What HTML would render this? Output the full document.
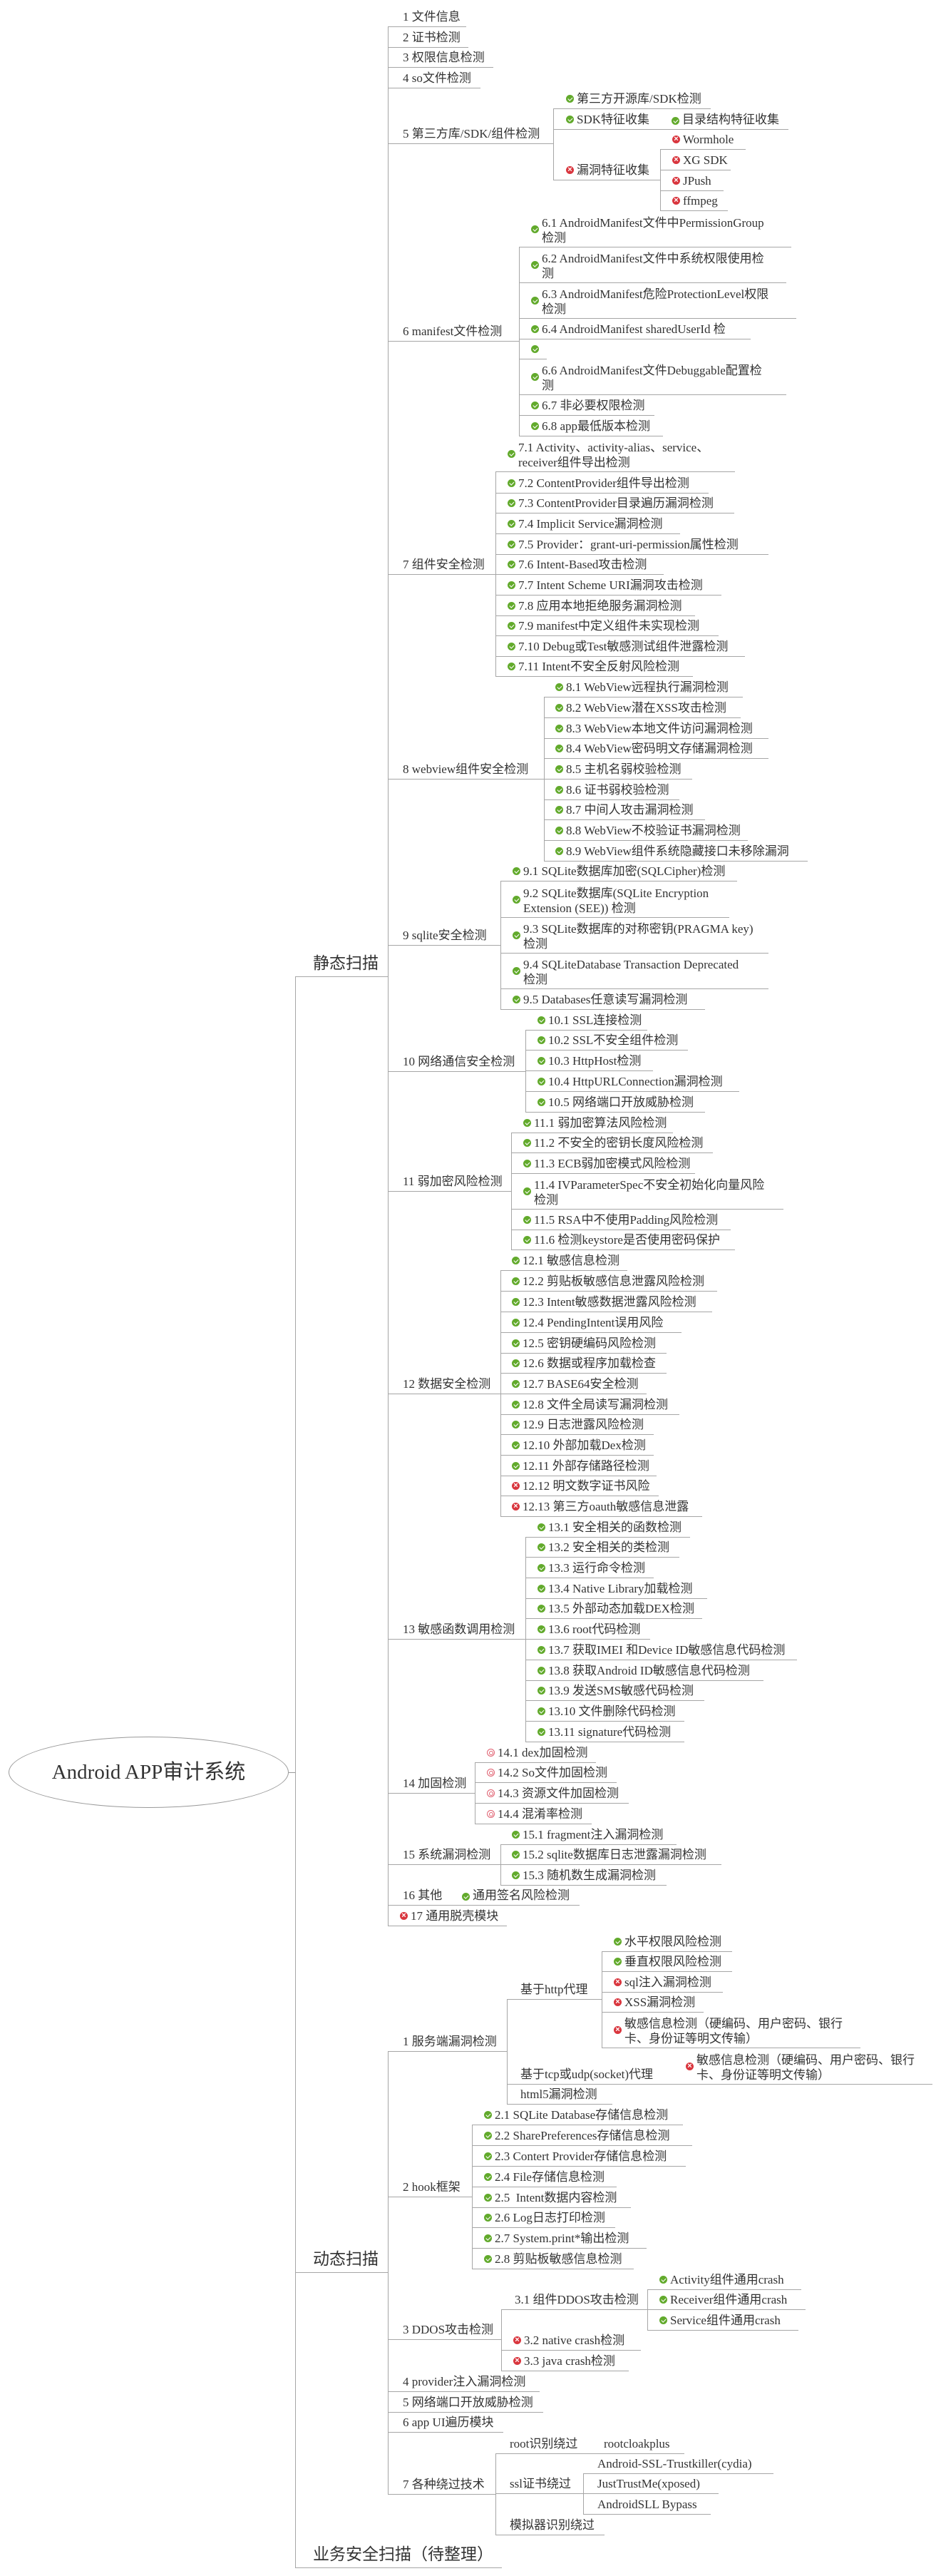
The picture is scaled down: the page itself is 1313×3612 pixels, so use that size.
<!DOCTYPE html>
<html><head><meta charset="utf-8">
<style>
html,body{margin:0;padding:0;background:#fff}
body{width:1313px;height:3612px;position:relative;overflow:hidden;font-family:"Liberation Serif","Noto Sans CJK SC",serif;color:#333}
.n{position:absolute;box-sizing:border-box;height:28px;border-bottom:1.5px solid #a6a6a6;white-space:nowrap;font-size:17px;line-height:24px;padding-top:2px;transform:translateY(-100%)}
.n.t{height:50px;line-height:21px;padding-top:5px}
.n.L{font-size:23px;height:36px;line-height:30px}
.v{position:absolute;border-left:1.5px solid #a6a6a6;width:0}
.n b{position:absolute;margin-left:-15px;bottom:8px;width:11px;height:11px;border-radius:50%}
.n.t b{bottom:19px}
.g{background:#62aa2c}
.g::after{content:"";position:absolute;left:3.5px;top:1.5px;width:2.5px;height:5px;border:solid #fff;border-width:0 1.5px 1.5px 0;transform:rotate(45deg)}
.r{background:#d9363e}
.r::after{content:"×";position:absolute;left:0;top:-3px;width:11px;text-align:center;color:#fff;font:bold 11px/16px "Liberation Sans",sans-serif}
.p{background:#fff;box-sizing:border-box;border:1.5px solid #e06070}
.p::after{content:"";position:absolute;left:2px;top:2px;width:4px;height:4px;border:1px solid #e06070;border-radius:50%}
.a{position:absolute;top:2px}
.root{position:absolute;left:12px;top:2435px;width:393px;height:100px;box-sizing:border-box;border:1px solid #999;border-radius:50%;text-align:center;font-size:29px;line-height:98px;color:#333}
</style></head><body>

<div class="root">Android APP审计系统</div>
<div style="position:absolute;left:405px;top:2485px;width:9px;border-top:1px solid #999"></div>

<!-- main bracket -->
<div class="v" style="left:414px;top:1370px;height:2231px"></div>
<div class="n L" style="left:414px;top:1370px;width:130px;padding-left:25px">静态扫描</div>
<div class="n L" style="left:414px;top:3187px;width:130px;padding-left:25px">动态扫描</div>
<div class="n L" style="left:414px;top:3601px;width:290px;padding-left:25px">业务安全扫描（待整理）</div>

<!-- static level 2 -->
<div class="v" style="left:544px;top:38px;height:2663px"></div>
<div class="n" style="left:544px;top:38px;width:110px;padding-left:21px">1 文件信息</div>
<div class="n" style="left:544px;top:67px;width:113px;padding-left:21px">2 证书检测</div>
<div class="n" style="left:544px;top:95px;width:148px;padding-left:21px">3 权限信息检测</div>
<div class="n" style="left:544px;top:124px;width:130px;padding-left:21px">4 so文件检测</div>
<div class="n" style="left:544px;top:202px;width:232px;padding-left:21px">5 第三方库/SDK/组件检测</div>
<div class="n" style="left:544px;top:479px;width:184px;padding-left:21px">6 manifest文件检测</div>
<div class="n" style="left:544px;top:806px;width:151px;padding-left:21px">7 组件安全检测</div>
<div class="n" style="left:544px;top:1093px;width:219px;padding-left:21px">8 webview组件安全检测</div>
<div class="n" style="left:544px;top:1326px;width:158px;padding-left:21px">9 sqlite安全检测</div>
<div class="n" style="left:544px;top:1503px;width:193px;padding-left:21px">10 网络通信安全检测</div>
<div class="n" style="left:544px;top:1671px;width:173px;padding-left:21px">11 弱加密风险检测</div>
<div class="n" style="left:544px;top:1955px;width:158px;padding-left:21px">12 数据安全检测</div>
<div class="n" style="left:544px;top:2299px;width:193px;padding-left:21px">13 敏感函数调用检测</div>
<div class="n" style="left:544px;top:2515px;width:122px;padding-left:21px">14 加固检测</div>
<div class="n" style="left:544px;top:2615px;width:158px;padding-left:21px">15 系统漏洞检测</div>
<div class="n" style="left:544px;top:2672px;width:269px;padding-left:21px">16 其他<span class="a" style="left:119px"><b class="g" style="bottom:auto;top:8px;margin-left:-15px"></b>通用签名风险检测</span></div>
<div class="n" style="left:544px;top:2701px;width:167px;padding-left:32px"><b class="r"></b>17 通用脱壳模块</div>

<!-- G5 -->
<div class="v" style="left:776px;top:153px;height:100px"></div>
<div class="n" style="left:776px;top:153px;width:221px;padding-left:33px"><b class="g"></b>第三方开源库/SDK检测</div>
<div class="n" style="left:776px;top:182px;width:330px;padding-left:33px"><b class="g"></b>SDK特征收集<span class="a" style="left:181px"><b class="g" style="bottom:auto;top:8px"></b>目录结构特征收集</span></div>
<div class="n" style="left:776px;top:253px;width:150px;padding-left:33px"><b class="r"></b>漏洞特征收集</div>
<div class="v" style="left:926px;top:210px;height:86px"></div>
<div class="n" style="left:926px;top:210px;width:120px;padding-left:32px"><b class="r"></b>Wormhole</div>
<div class="n" style="left:926px;top:239px;width:99px;padding-left:32px"><b class="r"></b>XG SDK</div>
<div class="n" style="left:926px;top:268px;width:89px;padding-left:32px"><b class="r"></b>JPush</div>
<div class="n" style="left:926px;top:296px;width:95px;padding-left:32px"><b class="r"></b>ffmpeg</div>

<!-- G6 -->
<div class="v" style="left:728px;top:347px;height:265px"></div>
<div class="n t" style="left:728px;top:347px;width:382px;padding-left:32px"><b class="g"></b>6.1 AndroidManifest文件中PermissionGroup<br>检测</div>
<div class="n t" style="left:728px;top:397px;width:375px;padding-left:32px"><b class="g"></b>6.2 AndroidManifest文件中系统权限使用检<br>测</div>
<div class="n t" style="left:728px;top:447px;width:389px;padding-left:32px"><b class="g"></b>6.3 AndroidManifest危险ProtectionLevel权限<br>检测</div>
<div class="n" style="left:728px;top:476px;width:325px;padding-left:32px"><b class="g"></b>6.4 AndroidManifest sharedUserId 检</div>
<div class="n" style="left:728px;top:504px;width:39px;padding-left:32px"><b class="g"></b></div>
<div class="n t" style="left:728px;top:554px;width:375px;padding-left:32px"><b class="g"></b>6.6 AndroidManifest文件Debuggable配置检<br>测</div>
<div class="n" style="left:728px;top:583px;width:190px;padding-left:32px"><b class="g"></b>6.7 非必要权限检测</div>
<div class="n" style="left:728px;top:612px;width:202px;padding-left:32px"><b class="g"></b>6.8 app最低版本检测</div>

<!-- G7 -->
<div class="v" style="left:695px;top:662px;height:287px"></div>
<div class="n t" style="left:695px;top:662px;width:336px;padding-left:32px"><b class="g"></b>7.1 Activity、activity-alias、service、<br>receiver组件导出检测</div>
<div class="n" style="left:695px;top:692px;width:299px;padding-left:32px"><b class="g"></b>7.2 ContentProvider组件导出检测</div>
<div class="n" style="left:695px;top:720px;width:335px;padding-left:32px"><b class="g"></b>7.3 ContentProvider目录遍历漏洞检测</div>
<div class="n" style="left:695px;top:749px;width:259px;padding-left:32px"><b class="g"></b>7.4 Implicit Service漏洞检测</div>
<div class="n" style="left:695px;top:778px;width:383px;padding-left:32px"><b class="g"></b>7.5 Provider：grant-uri-permission属性检测</div>
<div class="n" style="left:695px;top:806px;width:236px;padding-left:32px"><b class="g"></b>7.6 Intent-Based攻击检测</div>
<div class="n" style="left:695px;top:835px;width:317px;padding-left:32px"><b class="g"></b>7.7 Intent Scheme URI漏洞攻击检测</div>
<div class="n" style="left:695px;top:864px;width:280px;padding-left:32px"><b class="g"></b>7.8 应用本地拒绝服务漏洞检测</div>
<div class="n" style="left:695px;top:892px;width:313px;padding-left:32px"><b class="g"></b>7.9 manifest中定义组件未实现检测</div>
<div class="n" style="left:695px;top:921px;width:350px;padding-left:32px"><b class="g"></b>7.10 Debug或Test敏感测试组件泄露检测</div>
<div class="n" style="left:695px;top:949px;width:277px;padding-left:32px"><b class="g"></b>7.11 Intent不安全反射风险检测</div>

<!-- G8 -->
<div class="v" style="left:763px;top:978px;height:230px"></div>
<div class="n" style="left:763px;top:978px;width:279px;padding-left:31px"><b class="g"></b>8.1 WebView远程执行漏洞检测</div>
<div class="n" style="left:763px;top:1007px;width:276px;padding-left:31px"><b class="g"></b>8.2 WebView潜在XSS攻击检测</div>
<div class="n" style="left:763px;top:1036px;width:315px;padding-left:31px"><b class="g"></b>8.3 WebView本地文件访问漏洞检测</div>
<div class="n" style="left:763px;top:1064px;width:315px;padding-left:31px"><b class="g"></b>8.4 WebView密码明文存储漏洞检测</div>
<div class="n" style="left:763px;top:1093px;width:208px;padding-left:31px"><b class="g"></b>8.5 主机名弱校验检测</div>
<div class="n" style="left:763px;top:1122px;width:190px;padding-left:31px"><b class="g"></b>8.6 证书弱校验检测</div>
<div class="n" style="left:763px;top:1150px;width:226px;padding-left:31px"><b class="g"></b>8.7 中间人攻击漏洞检测</div>
<div class="n" style="left:763px;top:1179px;width:286px;padding-left:31px"><b class="g"></b>8.8 WebView不校验证书漏洞检测</div>
<div class="n" style="left:763px;top:1208px;width:370px;padding-left:31px"><b class="g"></b>8.9 WebView组件系统隐藏接口未移除漏洞</div>

<!-- G9 -->
<div class="v" style="left:702px;top:1236px;height:180px"></div>
<div class="n" style="left:702px;top:1236px;width:332px;padding-left:32px"><b class="g"></b>9.1 SQLite数据库加密(SQLCipher)检测</div>
<div class="n t" style="left:702px;top:1287px;width:321px;padding-left:32px"><b class="g"></b>9.2 SQLite数据库(SQLite Encryption<br>Extension (SEE)) 检测</div>
<div class="n t" style="left:702px;top:1337px;width:376px;padding-left:32px"><b class="g"></b>9.3 SQLite数据库的对称密钥(PRAGMA key)<br>检测</div>
<div class="n t" style="left:702px;top:1387px;width:376px;padding-left:32px"><b class="g"></b>9.4 SQLiteDatabase Transaction Deprecated<br>检测</div>
<div class="n" style="left:702px;top:1416px;width:287px;padding-left:32px"><b class="g"></b>9.5 Databases任意读写漏洞检测</div>

<!-- G10 -->
<div class="v" style="left:737px;top:1445px;height:115px"></div>
<div class="n" style="left:737px;top:1445px;width:171px;padding-left:32px"><b class="g"></b>10.1 SSL连接检测</div>
<div class="n" style="left:737px;top:1473px;width:228px;padding-left:32px"><b class="g"></b>10.2 SSL不安全组件检测</div>
<div class="n" style="left:737px;top:1502px;width:179px;padding-left:32px"><b class="g"></b>10.3 HttpHost检测</div>
<div class="n" style="left:737px;top:1531px;width:300px;padding-left:32px"><b class="g"></b>10.4 HttpURLConnection漏洞检测</div>
<div class="n" style="left:737px;top:1560px;width:252px;padding-left:32px"><b class="g"></b>10.5 网络端口开放威胁检测</div>

<!-- G11 -->
<div class="v" style="left:717px;top:1589px;height:164px"></div>
<div class="n" style="left:717px;top:1589px;width:227px;padding-left:32px"><b class="g"></b>11.1 弱加密算法风险检测</div>
<div class="n" style="left:717px;top:1617px;width:283px;padding-left:32px"><b class="g"></b>11.2 不安全的密钥长度风险检测</div>
<div class="n" style="left:717px;top:1646px;width:258px;padding-left:32px"><b class="g"></b>11.3 ECB弱加密模式风险检测</div>
<div class="n t" style="left:717px;top:1696px;width:382px;padding-left:32px"><b class="g"></b>11.4 IVParameterSpec不安全初始化向量风险<br>检测</div>
<div class="n" style="left:717px;top:1725px;width:308px;padding-left:32px"><b class="g"></b>11.5 RSA中不使用Padding风险检测</div>
<div class="n" style="left:717px;top:1753px;width:314px;padding-left:32px"><b class="g"></b>11.6 检测keystore是否使用密码保护</div>

<!-- G12 -->
<div class="v" style="left:702px;top:1782px;height:345px"></div>
<div class="n" style="left:702px;top:1782px;width:178px;padding-left:31px"><b class="g"></b>12.1 敏感信息检测</div>
<div class="n" style="left:702px;top:1811px;width:304px;padding-left:31px"><b class="g"></b>12.2 剪贴板敏感信息泄露风险检测</div>
<div class="n" style="left:702px;top:1840px;width:297px;padding-left:31px"><b class="g"></b>12.3 Intent敏感数据泄露风险检测</div>
<div class="n" style="left:702px;top:1869px;width:254px;padding-left:31px"><b class="g"></b>12.4 PendingIntent误用风险</div>
<div class="n" style="left:702px;top:1898px;width:233px;padding-left:31px"><b class="g"></b>12.5 密钥硬编码风险检测</div>
<div class="n" style="left:702px;top:1926px;width:233px;padding-left:31px"><b class="g"></b>12.6 数据或程序加载检查</div>
<div class="n" style="left:702px;top:1955px;width:205px;padding-left:31px"><b class="g"></b>12.7 BASE64安全检测</div>
<div class="n" style="left:702px;top:1984px;width:251px;padding-left:31px"><b class="g"></b>12.8 文件全局读写漏洞检测</div>
<div class="n" style="left:702px;top:2012px;width:215px;padding-left:31px"><b class="g"></b>12.9 日志泄露风险检测</div>
<div class="n" style="left:702px;top:2041px;width:215px;padding-left:31px"><b class="g"></b>12.10 外部加载Dex检测</div>
<div class="n" style="left:702px;top:2070px;width:219px;padding-left:31px"><b class="g"></b>12.11 外部存储路径检测</div>
<div class="n" style="left:702px;top:2098px;width:222px;padding-left:31px"><b class="r"></b>12.12 明文数字证书风险</div>
<div class="n" style="left:702px;top:2127px;width:283px;padding-left:31px"><b class="r"></b>12.13 第三方oauth敏感信息泄露</div>

<!-- G13 -->
<div class="v" style="left:737px;top:2156px;height:287px"></div>
<div class="n" style="left:737px;top:2156px;width:231px;padding-left:32px"><b class="g"></b>13.1 安全相关的函数检测</div>
<div class="n" style="left:737px;top:2184px;width:216px;padding-left:32px"><b class="g"></b>13.2 安全相关的类检测</div>
<div class="n" style="left:737px;top:2213px;width:180px;padding-left:32px"><b class="g"></b>13.3 运行命令检测</div>
<div class="n" style="left:737px;top:2242px;width:255px;padding-left:32px"><b class="g"></b>13.4 Native Library加载检测</div>
<div class="n" style="left:737px;top:2270px;width:248px;padding-left:32px"><b class="g"></b>13.5 外部动态加载DEX检测</div>
<div class="n" style="left:737px;top:2299px;width:175px;padding-left:32px"><b class="g"></b>13.6 root代码检测</div>
<div class="n" style="left:737px;top:2328px;width:381px;padding-left:32px"><b class="g"></b>13.7 获取IMEI 和Device ID敏感信息代码检测</div>
<div class="n" style="left:737px;top:2357px;width:334px;padding-left:32px"><b class="g"></b>13.8 获取Android ID敏感信息代码检测</div>
<div class="n" style="left:737px;top:2385px;width:251px;padding-left:32px"><b class="g"></b>13.9 发送SMS敏感代码检测</div>
<div class="n" style="left:737px;top:2414px;width:223px;padding-left:32px"><b class="g"></b>13.10 文件删除代码检测</div>
<div class="n" style="left:737px;top:2443px;width:223px;padding-left:32px"><b class="g"></b>13.11 signature代码检测</div>

<!-- G14 -->
<div class="v" style="left:666px;top:2472px;height:86px"></div>
<div class="n" style="left:666px;top:2472px;width:170px;padding-left:32px"><b class="p"></b>14.1 dex加固检测</div>
<div class="n" style="left:666px;top:2500px;width:199px;padding-left:32px"><b class="p"></b>14.2 So文件加固检测</div>
<div class="n" style="left:666px;top:2529px;width:216px;padding-left:32px"><b class="p"></b>14.3 资源文件加固检测</div>
<div class="n" style="left:666px;top:2558px;width:164px;padding-left:32px"><b class="p"></b>14.4 混淆率检测</div>

<!-- G15 -->
<div class="v" style="left:702px;top:2587px;height:57px"></div>
<div class="n" style="left:702px;top:2587px;width:247px;padding-left:31px"><b class="g"></b>15.1 fragment注入漏洞检测</div>
<div class="n" style="left:702px;top:2615px;width:310px;padding-left:31px"><b class="g"></b>15.2 sqlite数据库日志泄露漏洞检测</div>
<div class="n" style="left:702px;top:2644px;width:233px;padding-left:31px"><b class="g"></b>15.3 随机数生成漏洞检测</div>

<!-- dynamic level 2 -->
<div class="v" style="left:544px;top:2877px;height:621px"></div>
<div class="n" style="left:544px;top:2877px;width:167px;padding-left:21px">1 服务端漏洞检测</div>
<div class="n" style="left:544px;top:3081px;width:118px;padding-left:21px">2 hook框架</div>
<div class="n" style="left:544px;top:3281px;width:159px;padding-left:21px">3 DDOS攻击检测</div>
<div class="n" style="left:544px;top:3354px;width:213px;padding-left:21px">4 provider注入漏洞检测</div>
<div class="n" style="left:544px;top:3383px;width:218px;padding-left:21px">5 网络端口开放威胁检测</div>
<div class="n" style="left:544px;top:3411px;width:162px;padding-left:21px">6 app UI遍历模块</div>
<div class="n" style="left:544px;top:3498px;width:151px;padding-left:21px">7 各种绕过技术</div>

<!-- D1 -->
<div class="v" style="left:711px;top:2804px;height:147px"></div>
<div class="n" style="left:711px;top:2804px;width:133px;padding-left:19px">基于http代理</div>
<div class="n" style="left:711px;top:2923px;width:239px;padding-left:19px">基于tcp或udp(socket)代理</div>
<div class="n t" style="left:950px;top:2923px;width:358px;padding-left:27px"><b class="r"></b>敏感信息检测（硬编码、用户密码、银行<br>卡、身份证等明文传输）</div>
<div class="n" style="left:711px;top:2951px;width:148px;padding-left:19px">html5漏洞检测</div>
<div class="v" style="left:844px;top:2737px;height:135px"></div>
<div class="n" style="left:844px;top:2737px;width:183px;padding-left:32px"><b class="g"></b>水平权限风险检测</div>
<div class="n" style="left:844px;top:2765px;width:183px;padding-left:32px"><b class="g"></b>垂直权限风险检测</div>
<div class="n" style="left:844px;top:2794px;width:170px;padding-left:32px"><b class="r"></b>sql注入漏洞检测</div>
<div class="n" style="left:844px;top:2822px;width:143px;padding-left:32px"><b class="r"></b>XSS漏洞检测</div>
<div class="n t" style="left:844px;top:2872px;width:363px;padding-left:32px"><b class="r"></b>敏感信息检测（硬编码、用户密码、银行<br>卡、身份证等明文传输）</div>

<!-- D2 -->
<div class="v" style="left:662px;top:2980px;height:202px"></div>
<div class="n" style="left:662px;top:2980px;width:296px;padding-left:32px"><b class="g"></b>2.1 SQLite Database存储信息检测</div>
<div class="n" style="left:662px;top:3009px;width:309px;padding-left:32px"><b class="g"></b>2.2 SharePreferences存储信息检测</div>
<div class="n" style="left:662px;top:3038px;width:300px;padding-left:32px"><b class="g"></b>2.3 Contert Provider存储信息检测</div>
<div class="n" style="left:662px;top:3067px;width:203px;padding-left:32px"><b class="g"></b>2.4 File存储信息检测</div>
<div class="n" style="left:662px;top:3096px;width:223px;padding-left:32px"><b class="g"></b>2.5&nbsp; Intent数据内容检测</div>
<div class="n" style="left:662px;top:3124px;width:201px;padding-left:32px"><b class="g"></b>2.6 Log日志打印检测</div>
<div class="n" style="left:662px;top:3153px;width:245px;padding-left:32px"><b class="g"></b>2.7 System.print*输出检测</div>
<div class="n" style="left:662px;top:3182px;width:227px;padding-left:32px"><b class="g"></b>2.8 剪贴板敏感信息检测</div>

<!-- D3 -->
<div class="v" style="left:703px;top:3239px;height:86px"></div>
<div class="n" style="left:703px;top:3239px;width:205px;padding-left:19px">3.1 组件DDOS攻击检测</div>
<div class="n" style="left:703px;top:3296px;width:196px;padding-left:32px"><b class="r"></b>3.2 native crash检测</div>
<div class="n" style="left:703px;top:3325px;width:179px;padding-left:32px"><b class="r"></b>3.3 java crash检测</div>
<div class="v" style="left:908px;top:3211px;height:57px"></div>
<div class="n" style="left:908px;top:3211px;width:216px;padding-left:32px"><b class="g"></b>Activity组件通用crash</div>
<div class="n" style="left:908px;top:3239px;width:222px;padding-left:32px"><b class="g"></b>Receiver组件通用crash</div>
<div class="n" style="left:908px;top:3268px;width:212px;padding-left:32px"><b class="g"></b>Service组件通用crash</div>

<!-- D7 -->
<div class="v" style="left:695px;top:3441px;height:114px"></div>
<div class="n" style="left:695px;top:3441px;width:265px;padding-left:20px">root识别绕过<span class="a" style="left:152px">rootcloakplus</span></div>
<div class="n" style="left:695px;top:3497px;width:123px;padding-left:20px">ssl证书绕过</div>
<div class="n" style="left:695px;top:3555px;width:153px;padding-left:20px">模拟器识别绕过</div>
<div class="v" style="left:818px;top:3469px;height:57px"></div>
<div class="n" style="left:818px;top:3469px;width:267px;padding-left:20px">Android-SSL-Trustkiller(cydia)</div>
<div class="n" style="left:818px;top:3497px;width:190px;padding-left:20px">JustTrustMe(xposed)</div>
<div class="n" style="left:818px;top:3526px;width:179px;padding-left:20px">AndroidSLL Bypass</div>

</body></html>
